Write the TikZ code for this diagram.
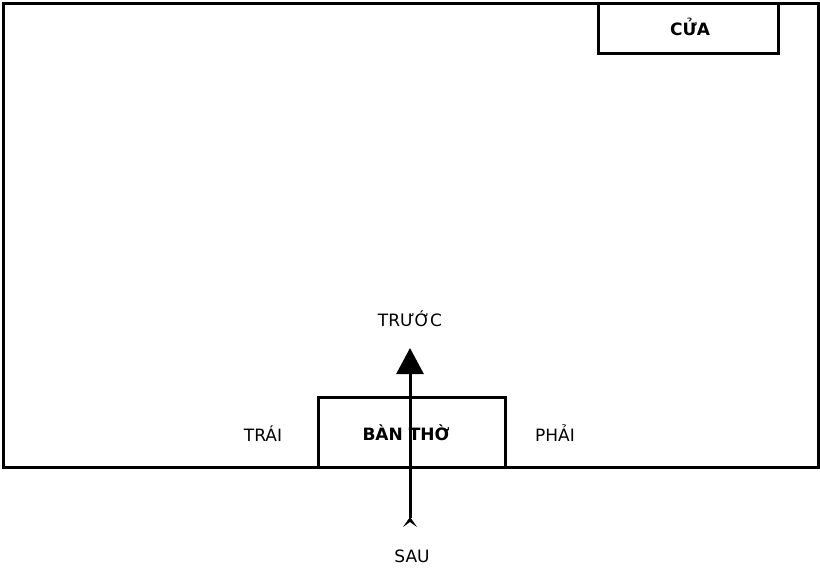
\documentclass[tikz,border=0pt]{standalone}
\usepackage{fontspec}
\setmainfont{DejaVu Sans}
\usetikzlibrary{arrows.meta}
\tikzset{
  wall/.style={draw=black, line width=3pt},
  label/.style={font=\fontsize{17}{20}\selectfont},
  title/.style={font=\fontsize{17}{20}\selectfont\bfseries}
}
\begin{document}
\begin{tikzpicture}[x=1pt,y=-1pt]
  \useasboundingbox (0,0) rectangle (820,568);
  % room
  \draw[wall] (3,3) rectangle (818,467);
  % door
  \draw[wall] (598,3) rectangle (778,53);
  \node[title] (cua) at (690,27) {CỬA};
  % altar
  \draw[wall] (318,397) rectangle (505,467);
  \node[title] (ban) at (406,433) {BÀN THỜ};
  % directions
  \node[label] (truoc) at (410,319) {TRƯỚC};
  \node[label] (sau) at (412,556) {SAU};
  \node[label] (trai) at (263,434) {TRÁI};
  \node[label] (phai) at (555,433) {PHẢI};
  \coordinate (tail) at (410,527);
  \coordinate (head) at (410,348);
  \draw[line width=3pt, {Stealth[reversed,length=10pt,width=14pt,inset=5pt]}-{Triangle[length=26pt,width=27pt]}] (tail) -- (head);
\end{tikzpicture}
\end{document}
